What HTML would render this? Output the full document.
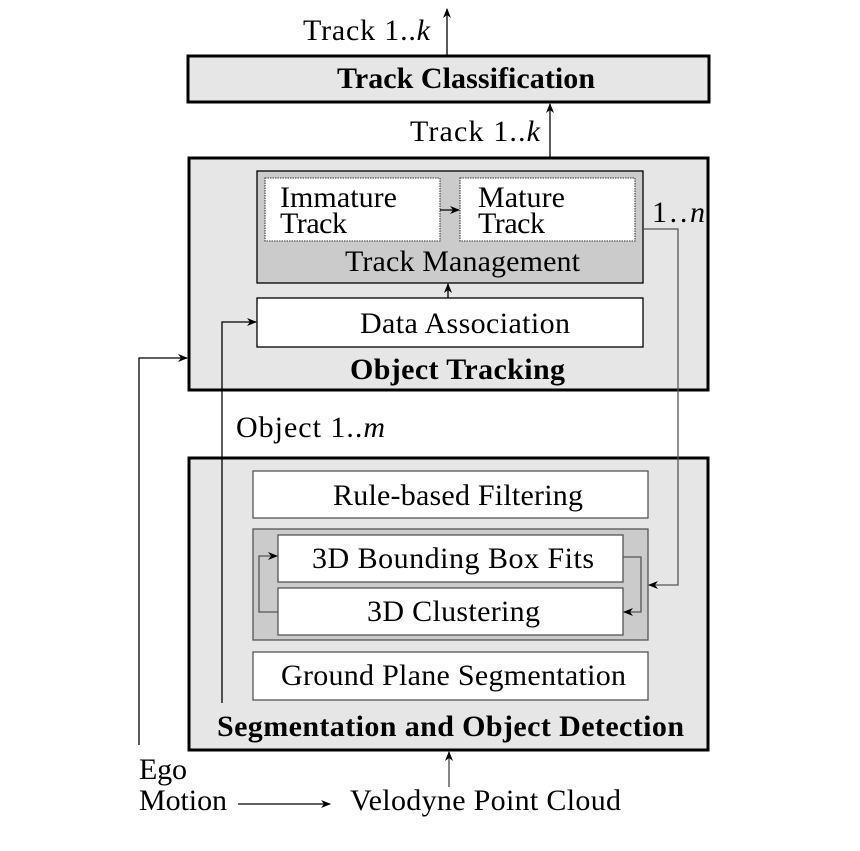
<!DOCTYPE html>
<html><head><meta charset="utf-8"><style>
html,body{margin:0;padding:0;background:#fff;}
svg text{font-family:"Liberation Serif","Times New Roman",serif;font-size:30px;fill:#000;}
.b{font-weight:bold;}
.i{font-style:italic;}
</style></head><body>
<svg width="860" height="846" viewBox="0 0 860 846" xmlns="http://www.w3.org/2000/svg">
<defs>
<marker id="a" markerWidth="10" markerHeight="8" refX="9" refY="4" orient="auto" markerUnits="userSpaceOnUse">
<path d="M0,0 L10,4 L0,8 L3,4 Z" fill="#000"/>
</marker>
</defs>
<line x1="447" y1="56" x2="447" y2="9" stroke="#000" stroke-width="1.3" marker-end="url(#a)"/>
<text x="303" y="40" textLength="127" lengthAdjust="spacing">Track 1..<tspan class="i">k</tspan></text>
<rect x="188" y="56" width="521" height="46" fill="#e6e6e6" stroke="#000" stroke-width="3"/>
<text x="337" y="88" class="b" textLength="258" lengthAdjust="spacing">Track Classification</text>
<line x1="550" y1="178" x2="550" y2="104" stroke="#000" stroke-width="1.3" marker-end="url(#a)"/>
<text x="410" y="141" textLength="130" lengthAdjust="spacing">Track 1..<tspan class="i">k</tspan></text>
<rect x="189" y="158" width="519" height="232" fill="#e6e6e6" stroke="#000" stroke-width="3"/>
<rect x="257" y="171" width="386" height="112" fill="#cbcbcb" stroke="#000" stroke-width="1.3"/>
<rect x="265" y="178" width="175" height="63" fill="#fff" stroke="#555" stroke-width="1.3" stroke-dasharray="1.5,1"/>
<rect x="460" y="178" width="175" height="63" fill="#fff" stroke="#555" stroke-width="1.3" stroke-dasharray="1.5,1"/>
<line x1="440" y1="210" x2="459" y2="210" stroke="#000" stroke-width="1.3" marker-end="url(#a)"/>
<text x="280" y="207" textLength="117" lengthAdjust="spacing">Immature</text><text x="280" y="233" textLength="67" lengthAdjust="spacing">Track</text>
<text x="478" y="207" textLength="87" lengthAdjust="spacing">Mature</text><text x="478" y="233" textLength="67" lengthAdjust="spacing">Track</text>
<text x="345" y="271" textLength="235" lengthAdjust="spacing">Track Management</text>
<line x1="448" y1="298" x2="448" y2="284" stroke="#000" stroke-width="1.3" marker-end="url(#a)"/>
<rect x="257" y="298" width="386" height="49" fill="#fff" stroke="#000" stroke-width="1.3"/>
<text x="360" y="333" textLength="210" lengthAdjust="spacing">Data Association</text>
<text x="350" y="379" class="b" textLength="215" lengthAdjust="spacing">Object Tracking</text>
<text x="652" y="222" textLength="53" lengthAdjust="spacing">1..<tspan class="i">n</tspan></text>
<text x="236" y="437" textLength="149" lengthAdjust="spacing">Object 1..<tspan class="i">m</tspan></text>
<rect x="189" y="458" width="519" height="292" fill="#e6e6e6" stroke="#000" stroke-width="3"/>
<rect x="253" y="471" width="395" height="47" fill="#fff" stroke="#555" stroke-width="1.3"/>
<text x="333" y="505" textLength="250" lengthAdjust="spacing">Rule-based Filtering</text>
<rect x="253" y="529" width="395" height="111" fill="#cbcbcb" stroke="#555" stroke-width="1.3"/>
<rect x="278" y="535" width="345" height="47" fill="#fff" stroke="#555" stroke-width="1.3"/>
<text x="312" y="568" textLength="282" lengthAdjust="spacing">3D Bounding Box Fits</text>
<rect x="278" y="588" width="345" height="47" fill="#fff" stroke="#555" stroke-width="1.3"/>
<text x="367" y="621" textLength="173" lengthAdjust="spacing">3D Clustering</text>
<polyline points="278,612 259,612 259,556 277,556" fill="none" stroke="#555" stroke-width="1.3" marker-end="url(#a)"/>
<polyline points="623,557 641,557 641,612 624,612" fill="none" stroke="#555" stroke-width="1.3" marker-end="url(#a)"/>
<rect x="253" y="652" width="395" height="48" fill="#fff" stroke="#555" stroke-width="1.3"/>
<text x="281" y="685" textLength="345" lengthAdjust="spacing">Ground Plane Segmentation</text>
<text x="217" y="736" class="b" textLength="467" lengthAdjust="spacing">Segmentation and Object Detection</text>
<polyline points="643,229 678,229 678,585 649,585" fill="none" stroke="#555" stroke-width="1.3" marker-end="url(#a)"/>
<polyline points="139,745 139,358 187,358" fill="none" stroke="#000" stroke-width="1.3" marker-end="url(#a)"/>
<polyline points="222,703 222,322 256,322" fill="none" stroke="#000" stroke-width="1.3" marker-end="url(#a)"/>
<line x1="449" y1="787" x2="449" y2="752" stroke="#444" stroke-width="1.3" marker-end="url(#a)"/>
<text x="139" y="779" textLength="48" lengthAdjust="spacing">Ego</text>
<text x="139" y="810" textLength="88" lengthAdjust="spacing">Motion</text>
<line x1="238" y1="804" x2="330" y2="804" stroke="#000" stroke-width="1.3" marker-end="url(#a)"/>
<text x="350" y="810" textLength="271" lengthAdjust="spacing">Velodyne Point Cloud</text>
</svg>
</body></html>
